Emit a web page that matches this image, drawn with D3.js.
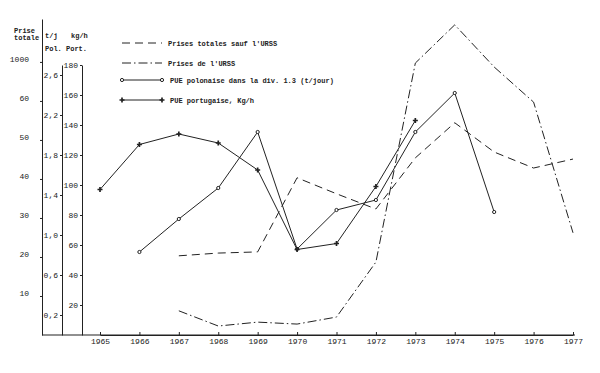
<!DOCTYPE html>
<html>
<head>
<meta charset="utf-8">
<script src="https://cdn.jsdelivr.net/npm/d3@7"></script>
<style>
  body { margin: 0; background: #fff; }
  svg { font-family: "Liberation Mono", "DejaVu Sans Mono", monospace; }
  .axis path, .axis line { stroke: #222; }
  .axis text { fill: #222; font-family: "Liberation Mono", monospace; }
</style>
</head>
<body>
<div id="chart"></div>
<script>
// data
const years = [1965, 1966, 1967, 1968, 1969, 1970, 1971, 1972, 1973, 1974, 1975, 1976, 1977];

// Prise totale (left axis)
const totalesSaufURSS = [null, null, 20.3, 21.0, 21.3, 40.3, 36.2, 32.3, 45.4, 54.4, 46.9, 42.8, 45.1];
const prisesURSS = [null, null, 6.2, 2.3, 3.3, 2.8, 4.6, 18.7, 69.7, 79.5, 68.7, 59.7, 26.2];
// PUE polonaise, t/j
const puePolonaise = [null, 0.83, 1.16, 1.47, 2.03, 0.86, 1.25, 1.35, 2.03, 2.42, 1.23, null, null];
// PUE portugaise, kg/h
const puePortugaise = [97, 127, 134, 128, 110, 57, 61, 99, 143, null, null, null, null];

const totTicks = [10, 20, 30, 40, 50, 60, 70];
const totTickLabels = ["10", "20", "30", "40", "50", "60", "1000"];
const polTicks = [0.2, 0.6, 1.0, 1.4, 1.8, 2.2, 2.6];
const portTicks = [20, 40, 60, 80, 100, 120, 140, 160, 180];

const legendLabels = [
    "Prises totales sauf l'URSS",
    "Prises de l'URSS",
    "PUE polonaise dans la div. 1.3 (t/jour)",
    "PUE portugaise, Kg/h"
];

const width = 600, height = 373;
const baseY = 335;
const ink = "#222";

const svg = d3.select("#chart").append("svg")
    .attr("width", width)
    .attr("height", height);

const xScale = d3.scaleLinear().domain([1965, 1977]).range([100, 573]);
const yTot = d3.scaleLinear().domain([0, 81]).range([baseY, 19]);
const yPol = d3.scaleLinear().domain([0, 2.7]).range([baseY, 65]);
const yPort = d3.scaleLinear().domain([0, 180]).range([baseY, 65]);

// axes
const totAxis = svg.append("g")
    .attr("class", "axis")
    .attr("transform", "translate(42,0)")
    .call(d3.axisLeft(yTot)
        .tickValues(totTicks)
        .tickFormat((d, i) => totTickLabels[i])
        .tickSizeInner(2)
        .tickSizeOuter(0)
        .tickPadding(11))
totAxis.selectAll("text").attr("font-size", 8).attr("dy", "-0.1em")

const polAxis = svg.append("g")
    .attr("class", "axis")
    .attr("transform", "translate(62,0)")
    .call(d3.axisLeft(yPol)
        .tickValues(polTicks)
        .tickFormat(d => d3.format(".1f")(d).replace(".", ","))
        .tickSizeInner(2)
        .tickSizeOuter(0)
        .tickPadding(2))
polAxis.selectAll("text").attr("font-size", 8)

const portAxis = svg.append("g")
    .attr("class", "axis")
    .attr("transform", "translate(82,0)")
    .call(d3.axisLeft(yPort)
        .tickValues(portTicks)
        .tickSizeInner(2)
        .tickSizeOuter(0)
        .tickPadding(2))
portAxis.selectAll("text").attr("font-size", 8)

const xAxis = svg.append("g")
    .attr("class", "axis")
    .attr("transform", `translate(0,${baseY})`)
    .call(d3.axisBottom(xScale)
        .tickValues(years)
        .tickFormat(d3.format("d"))
        .tickSizeInner(-3)
        .tickSizeOuter(0)
        .tickPadding(3))
xAxis.selectAll("text").attr("font-size", 8)

// base line running under all three vertical axes
svg.append("line")
    .attr("x1", 42).attr("x2", xScale(1977) + 2)
    .attr("y1", baseY).attr("y2", baseY)
    .attr("stroke", ink)
    .attr("stroke-width", 1.2)

// axis headers
const header = svg.append("g")
    .attr("font-size", 7)
    .attr("font-weight", "bold")
    .attr("fill", ink)
header.append("text").attr("x", 14).attr("y", 33).text("Prise")
header.append("text").attr("x", 14).attr("y", 40).text("totale")
header.append("text").attr("x", 45).attr("y", 38).text("t/j")
header.append("text").attr("x", 71).attr("y", 38).text("kg/h")
header.append("text").attr("x", 45).attr("y", 51).text("Pol. Port.")

// series
const series = [
    { values: totalesSaufURSS, y: yTot, dash: "8,5", marker: null },
    { values: prisesURSS, y: yTot, dash: "9,3,1.5,3", marker: null },
    { values: puePolonaise, y: yPol, dash: null, marker: "circle" },
    { values: puePortugaise, y: yPort, dash: null, marker: "plus" }
];

series.forEach(s => {
    const pts = years.map((yr, i) => ({ year: yr, v: s.values[i] })).filter(d => d.v != null);
    const line = d3.line()
        .x(d => xScale(d.year))
        .y(d => s.y(d.v));
    svg.append("path")
        .attr("d", line(pts))
        .attr("fill", "none")
        .attr("stroke", ink)
        .attr("stroke-width", 1)
        .attr("stroke-dasharray", s.dash);

    if (s.marker == "circle") {
        svg.selectAll(null).data(pts).enter().append("circle")
            .attr("cx", d => xScale(d.year))
            .attr("cy", d => s.y(d.v))
            .attr("r", 1.6)
            .attr("fill", "#fff")
            .attr("stroke", ink)
            .attr("stroke-width", 1);
    } else if (s.marker == "plus") {
        svg.selectAll(null).data(pts).enter().append("path")
            .attr("d", d3.symbol(d3.symbolCross, 14))
            .attr("transform", d => `translate(${xScale(d.year)},${s.y(d.v)})`)
            .attr("fill", ink);
    }
});

// legend
const legendY = [43, 63, 80, 100];
const legend = svg.append("g").attr("font-size", 7).attr("fill", ink)
legendLabels.forEach((label, i) => {
    const s = series[i];
    const y = legendY[i];
    const x0 = 122, x1 = 162;
    legend.append("line")
        .attr("x1", x0).attr("x2", x1)
        .attr("y1", y).attr("y2", y)
        .attr("stroke", ink)
        .attr("stroke-width", 1)
        .attr("stroke-dasharray", s.dash);
    if (s.marker == "circle") {
        [x0, x1].forEach(x => legend.append("circle")
            .attr("cx", x).attr("cy", y).attr("r", 1.6)
            .attr("fill", "#fff").attr("stroke", ink));
    } else if (s.marker == "plus") {
        [x0, x1].forEach(x => legend.append("path")
            .attr("d", d3.symbol(d3.symbolCross, 14))
            .attr("transform", `translate(${x},${y})`)
            .attr("fill", ink));
    }
    legend.append("text")
        .attr("x", s.marker ? 170 : 168)
        .attr("y", y + 2.5)
        .attr("font-weight", "bold")
        .text(label);
});
</script>
</body>
</html>
